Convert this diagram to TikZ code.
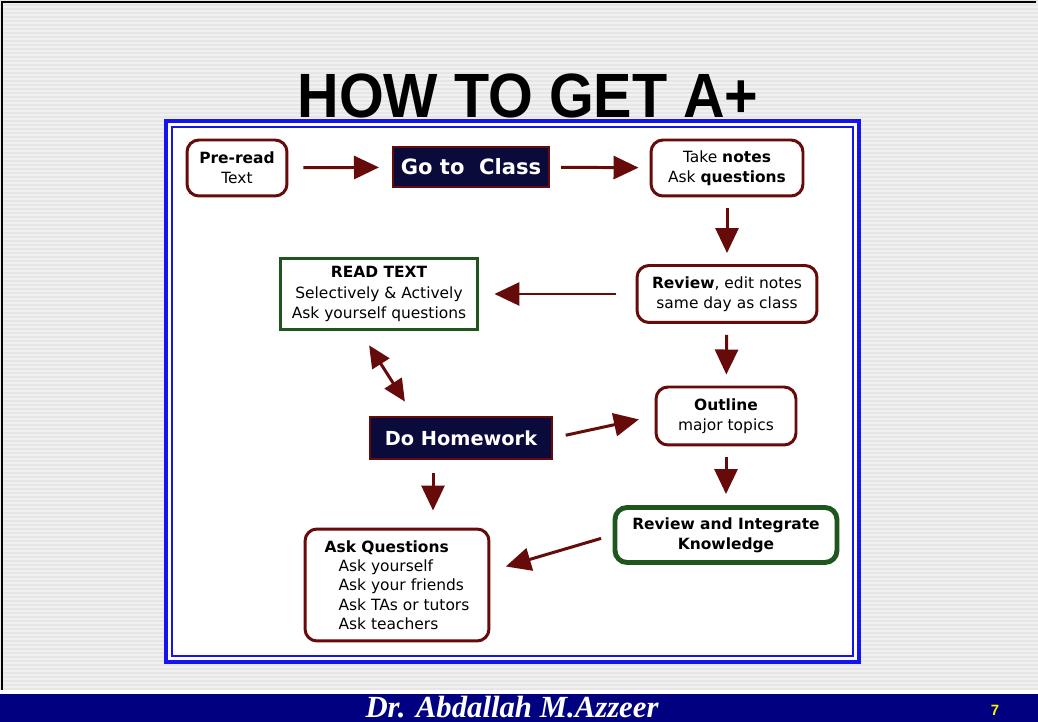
\documentclass[tikz,border=0pt]{standalone}
\usepackage{fontspec}
\setmainfont{DejaVu Sans}
\newfontfamily\titlefont{Liberation Sans}
\newfontfamily\footfont{Liberation Serif}
\usepackage{tikz}
\usetikzlibrary{arrows.meta}

\definecolor{maroon}{HTML}{660A0A}
\definecolor{nightblue}{HTML}{0B0B3B}
\definecolor{leafgreen}{HTML}{1E561E}
\definecolor{frameblue}{HTML}{1414F0}
\definecolor{footblue}{HTML}{000080}
\definecolor{slidegray}{HTML}{E6E6E6}

\tikzset{
  boxtext/.style={font=\fontsize{8.8}{11.6}\selectfont, align=center},
  roundbox/.style={boxtext, draw=maroon, line width=1.7pt, rounded corners=0.24cm, fill=white},
  navybox/.style={draw=maroon, line width=1.2pt, fill=nightblue, text=white, font=\bfseries},
  greenbox/.style={boxtext, draw=leafgreen, line width=1.7pt, fill=white},
  flowarrow/.style={draw=maroon, line width=1.7pt, -{Triangle[length=0.5cm, width=0.46cm]},
    shorten <=0.22cm, shorten >=0.22cm},
}

\begin{document}
\begin{tikzpicture}[x=0.02cm, y=-0.02cm]
    \useasboundingbox (0,0) rectangle (1038,722);
    \fill[slidegray] (0,0) rectangle (1038,722);
    \foreach \yy in {3,7,...,690}
      \draw[white, opacity=0.4, line width=0.6pt] (0,\yy) -- (1038,\yy);
    \draw[black, line width=1.2pt] (2,692) -- (2,2) -- (1036,2);
    \fill[white] (0,690) rectangle (1038,694);
    \fill[footblue] (0,694) rectangle (1038,722);

    \node[font=\titlefont\bfseries\fontsize{35.6}{40}\selectfont] (title) at (528,96)
      {\scalebox{0.92}[1]{HOW TO GET A+}};

    \fill[white] (166,121) rectangle (859,662);
    \draw[frameblue, line width=2.2pt] (166,121) rectangle (859,662);
    \draw[frameblue, line width=0.9pt] (172,127) rectangle (853,656);

    \node[roundbox, minimum width=2cm, minimum height=1.12cm] (pre) at (237,168)
      {\textbf{Pre-read}\\Text};
    \node[navybox, minimum width=3.12cm, minimum height=0.8cm,
      font=\bfseries\fontsize{12}{14}\selectfont] (class) at (471,167) {Go to\ \ Class};
    \node[roundbox, minimum width=3.04cm, minimum height=1.12cm] (take) at (727,168)
      {Take \textbf{notes}\\Ask \textbf{questions}};
    \node[roundbox, minimum width=3.6cm, minimum height=1.14cm] (review) at (727,294)
      {\textbf{Review}, edit notes\\same day as class};
    \node[greenbox, minimum width=3.96cm, minimum height=1.42cm] (read) at (379,294)
      {\textbf{READ TEXT}\\Selectively \& Actively\\Ask yourself questions};
    \node[navybox, minimum width=3.64cm, minimum height=0.84cm,
      font=\bfseries\fontsize{11}{13}\selectfont] (hw) at (461,438) {Do Homework};
    \node[roundbox, minimum width=2.8cm, minimum height=1.16cm] (outline) at (726,416)
      {\textbf{Outline}\\major topics};
    \node[greenbox, line width=2.8pt, rounded corners=0.24cm, minimum width=4.44cm,
      minimum height=1.1cm] (integ) at (726,535)
      {\textbf{Review and Integrate}\\\textbf{Knowledge}};
    \node[roundbox, align=left, minimum width=3.68cm, minimum height=2.24cm,
      font=\fontsize{8.8}{11}\selectfont] (ask) at (397,585)
      {\textbf{Ask Questions}\\\hspace*{0.28cm}Ask yourself\\\hspace*{0.28cm}Ask your friends\\
       \hspace*{0.28cm}Ask TAs or tutors\\\hspace*{0.28cm}Ask teachers};

    \draw[flowarrow, shorten <=0.3cm, shorten >=0.26cm] (pre) -- (class);
    \draw[flowarrow] (class) -- (take);
    \draw[flowarrow] (take) -- (review);
    \draw[flowarrow, shorten <=0.4cm, shorten >=0.3cm] (review) -- (read);
    \draw[flowarrow, {Triangle[length=0.44cm, width=0.4cm]}-{Triangle[length=0.44cm, width=0.4cm]},
      shorten <=0.34cm, shorten >=0.34cm] ([xshift=-0.38cm]read.south) -- ([xshift=-0.94cm]hw.north);
    \draw[flowarrow] (review) -- (outline);
    \draw[flowarrow, shorten <=0.26cm, shorten >=0.32cm] (hw.east) -- (outline.west);
    \draw[flowarrow] (outline) -- (integ);
    \draw[flowarrow, shorten <=0.26cm, shorten >=0.34cm] ([xshift=-0.56cm]hw.south)
      -- ([xshift=-0.56cm]hw.south |- ask.north);
    \draw[flowarrow, shorten <=0.24cm, shorten >=0.32cm] (integ.west) -- ([yshift=0.28cm]ask.east);

    \node[text=white, font=\footfont\bfseries\itshape\fontsize{17.5}{19}\selectfont] (author)
      at (512,707) {Dr. Abdallah M.Azzeer};
    \node[text=yellow, font=\titlefont\bfseries\fontsize{8.5}{10}\selectfont] (page)
      at (995,710) {7};
\end{tikzpicture}
\end{document}
